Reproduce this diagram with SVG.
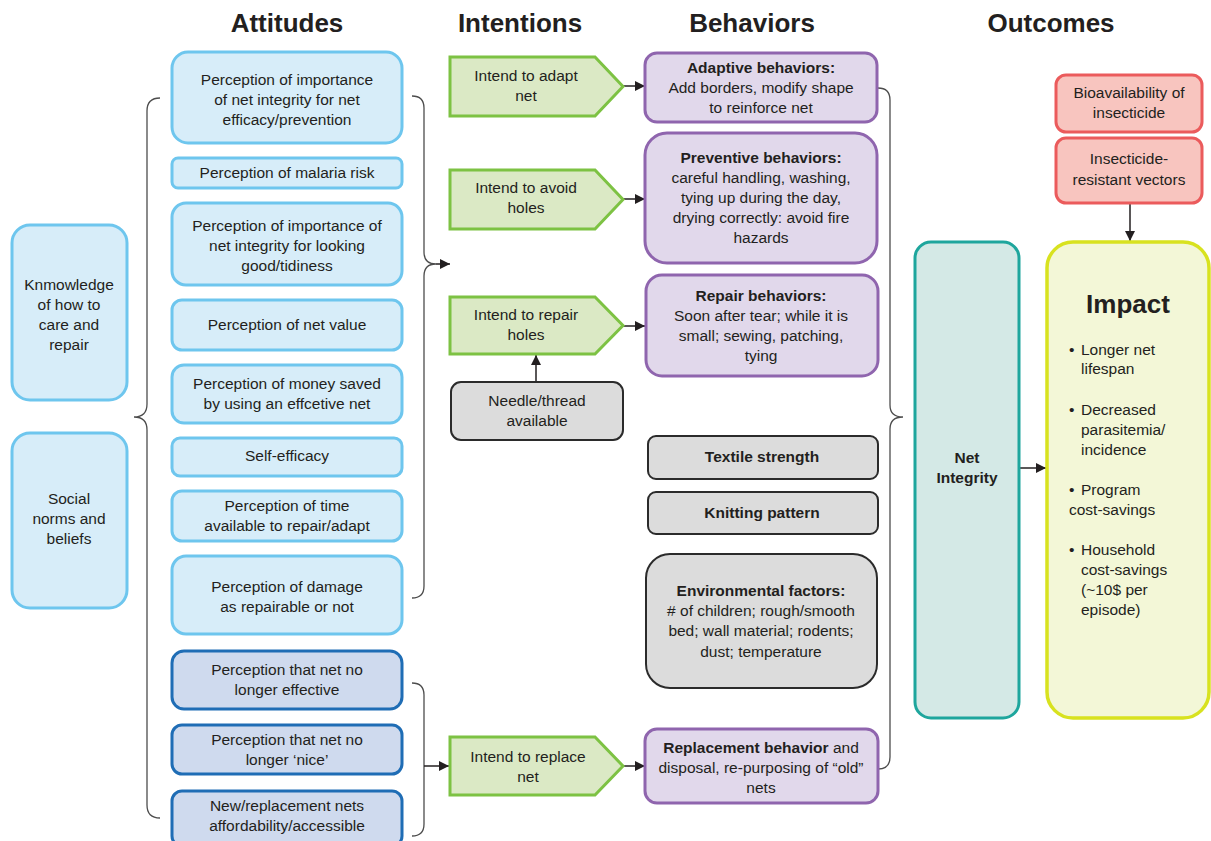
<svg xmlns="http://www.w3.org/2000/svg" width="1211" height="841" viewBox="0 0 1211 841">
<defs>
<marker id="ah" markerUnits="userSpaceOnUse" markerWidth="11" markerHeight="11" refX="10" refY="5" orient="auto"><path d="M0,0 L10,5 L0,10 z" fill="#231f20"/></marker>
<style>
text{font-family:"Liberation Sans",Arial,sans-serif;font-size:15.5px;fill:#231f20;text-anchor:middle}
.h{font-size:26px;font-weight:bold}
.b{font-weight:bold}
.lb{fill:#d7edf9;stroke:#6ec6ee;stroke-width:3}
.db{fill:#cfdaee;stroke:#1f6db5;stroke-width:3}
.gr{fill:#dbe9c5;stroke:#7dc243;stroke-width:3}
.pu{fill:#e1d8eb;stroke:#8f65ae;stroke-width:3}
.gy{fill:#dcdcdc;stroke:#2b2b2b;stroke-width:2}
.rd{fill:#f8c5bf;stroke:#eb5b5c;stroke-width:3}
.tl{fill:#d4e9e6;stroke:#1ea69d;stroke-width:3}
.yl{fill:#f3f7d7;stroke:#d8e21f;stroke-width:3.5}
.br{fill:none;stroke:#4d4d4d;stroke-width:1.3}
.ar{fill:none;stroke:#231f20;stroke-width:1.5;marker-end:url(#ah)}
.l{text-anchor:start}
</style>
</defs>
<rect width="1211" height="841" fill="#fff"/>
<g id="headers">
<text class="h" x="287" y="32">Attitudes</text>
<text class="h" x="520" y="32">Intentions</text>
<text class="h" x="752" y="32">Behaviors</text>
<text class="h" x="1051" y="32">Outcomes</text>
</g>
<g id="connectors">
<path class="br" d="M160,98 Q147,98 147,111 L147,404 Q147,417 134,417 Q147,417 147,430 L147,805 Q147,818 160,818"/>
<path class="br" d="M412,96 Q424,96 424,108 L424,252 Q424,264 436,264 Q424,264 424,276 L424,586 Q424,598 412,598"/>
<path class="ar" d="M436,264 L450,264"/>
<path class="br" d="M412,683 Q424,683 424,695 L424,824 Q424,836 412,836"/>
<path class="ar" d="M424,766 L449,766"/>
<path class="br" d="M878,88 Q890,88 890,100 L890,405 Q890,417 903,417 Q890,417 890,429 L890,757 Q890,769 878,769"/>
<path class="ar" d="M623,86 L645,86"/>
<path class="ar" d="M623,199 L645,199"/>
<path class="ar" d="M623,326 L645,326"/>
<path class="ar" d="M623,766 L645,766"/>
<path class="ar" d="M536,382 L536,355"/>
<path class="ar" d="M1019,468 L1046,468"/>
<path class="ar" d="M1130,203 L1130,241"/>
</g>
<g id="knowledge"><rect class="lb" x="12" y="225" width="115" height="175" rx="18"/>
<text x="69" y="290">Knmowledge</text><text x="69" y="310">of how to</text><text x="69" y="330">care and</text><text x="69" y="350">repair</text></g>
<g id="social"><rect class="lb" x="12" y="433" width="115" height="175" rx="18"/>
<text x="69" y="504">Social</text><text x="69" y="524">norms and</text><text x="69" y="544">beliefs</text></g>
<g id="att1"><rect class="lb" x="172" y="52" width="230" height="91" rx="16"/>
<text x="287" y="85">Perception of importance</text><text x="287" y="105">of net integrity for net</text><text x="287" y="125">efficacy/prevention</text></g>
<g id="att2"><rect class="lb" x="172" y="158" width="230" height="30" rx="6"/>
<text x="287" y="178">Perception of malaria risk</text></g>
<g id="att3"><rect class="lb" x="172" y="203" width="230" height="82" rx="14"/>
<text x="287" y="231">Perception of importance of</text><text x="287" y="251">net integrity for looking</text><text x="287" y="271">good/tidiness</text></g>
<g id="att4"><rect class="lb" x="172" y="300" width="230" height="50" rx="10"/>
<text x="287" y="330">Perception of net value</text></g>
<g id="att5"><rect class="lb" x="172" y="365" width="230" height="58" rx="12"/>
<text x="287" y="389">Perception of money saved</text><text x="287" y="409">by using an effcetive net</text></g>
<g id="att6"><rect class="lb" x="172" y="438" width="230" height="38" rx="8"/>
<text x="287" y="461">Self-efficacy</text></g>
<g id="att7"><rect class="lb" x="172" y="491" width="230" height="50" rx="10"/>
<text x="287" y="511">Perception of time</text><text x="287" y="531">available to repair/adapt</text></g>
<g id="att8"><rect class="lb" x="172" y="556" width="230" height="78" rx="14"/>
<text x="287" y="592">Perception of damage</text><text x="287" y="612">as repairable or not</text></g>
<g id="att9"><rect class="db" x="172" y="651" width="230" height="58" rx="12"/>
<text x="287" y="675">Perception that net no</text><text x="287" y="695">longer effective</text></g>
<g id="att10"><rect class="db" x="172" y="725" width="230" height="49" rx="10"/>
<text x="287" y="745">Perception that net no</text><text x="287" y="765">longer ‘nice’</text></g>
<g id="att11"><rect class="db" x="172" y="791" width="230" height="55" rx="10"/>
<text x="287" y="811">New/replacement nets</text><text x="287" y="831">affordability/accessible</text></g>
<g id="int1"><polygon class="gr" points="450,57 595,57 623,86.5 595,116 450,116"/>
<text x="526" y="81">Intend to adapt</text><text x="526" y="101">net</text></g>
<g id="int2"><polygon class="gr" points="450,170 595,170 623,199.5 595,229 450,229"/>
<text x="526" y="193">Intend to avoid</text><text x="526" y="213">holes</text></g>
<g id="int3"><polygon class="gr" points="450,297 595,297 623,325.5 595,354 450,354"/>
<text x="526" y="320">Intend to repair</text><text x="526" y="340">holes</text></g>
<g id="int4"><polygon class="gr" points="450,737 595,737 623,766 595,795 450,795"/>
<text x="528" y="762">Intend to replace</text><text x="528" y="782">net</text></g>
<g id="needle"><rect class="gy" x="451" y="382" width="172" height="58" rx="10"/>
<text x="537" y="406">Needle/thread</text><text x="537" y="426">available</text></g>
<g id="adaptive"><rect class="pu" x="645" y="53" width="232" height="69" rx="12"/>
<text class="b" x="761" y="73">Adaptive behaviors:</text><text x="761" y="93">Add borders, modify shape</text><text x="761" y="113">to reinforce net</text></g>
<g id="preventive"><rect class="pu" x="645" y="133" width="232" height="130" rx="22"/>
<text class="b" x="761" y="163">Preventive behaviors:</text><text x="761" y="183">careful handling, washing,</text><text x="761" y="203">tying up during the day,</text><text x="761" y="223">drying correctly: avoid fire</text><text x="761" y="243">hazards</text></g>
<g id="repair"><rect class="pu" x="646" y="275" width="232" height="101" rx="16"/>
<text class="b" x="761" y="301">Repair behaviors:</text><text x="761" y="321">Soon after tear; while it is</text><text x="761" y="341">small; sewing, patching,</text><text x="761" y="361">tying</text></g>
<g id="textile"><rect class="gy" x="648" y="436" width="230" height="43" rx="8"/>
<text class="b" x="762" y="462">Textile strength</text></g>
<g id="knitting"><rect class="gy" x="648" y="492" width="230" height="42" rx="8"/>
<text class="b" x="762" y="518">Knitting pattern</text></g>
<g id="environmental"><rect class="gy" x="646" y="554" width="231" height="134" rx="24"/>
<text class="b" x="761" y="596">Environmental factors:</text><text x="761" y="616"># of children; rough/smooth</text><text x="761" y="636">bed; wall material; rodents;</text><text x="761" y="657">dust; temperature</text></g>
<g id="replacement"><rect class="pu" x="645" y="729" width="233" height="74" rx="12"/>
<text x="761" y="753"><tspan font-weight="bold">Replacement behavior</tspan> and</text><text x="761" y="773">disposal, re-purposing of “old”</text><text x="761" y="793">nets</text></g>
<g id="netintegrity"><rect class="tl" x="915" y="242" width="104" height="476" rx="16"/>
<text class="b" x="967" y="463">Net</text><text class="b" x="967" y="483">Integrity</text></g>
<g id="bio"><rect class="rd" x="1056" y="75" width="146" height="57" rx="10"/>
<text x="1129" y="98">Bioavailability of</text><text x="1129" y="118">insecticide</text></g>
<g id="resistant"><rect class="rd" x="1056" y="138" width="146" height="65" rx="10"/>
<text x="1129" y="164">Insecticide-</text><text x="1129" y="185">resistant vectors</text></g>
<g id="impact"><rect class="yl" x="1047" y="242" width="162" height="476" rx="26"/>
<text class="b" x="1128" y="313" style="font-size:26px">Impact</text>
<text class="l" x="1069" y="355">•</text><text class="l" x="1081" y="355">Longer net</text><text class="l" x="1081" y="374">lifespan</text>
<text class="l" x="1069" y="415">•</text><text class="l" x="1081" y="415">Decreased</text><text class="l" x="1081" y="435">parasitemia/</text><text class="l" x="1081" y="455">incidence</text>
<text class="l" x="1069" y="495">•</text><text class="l" x="1081" y="495">Program</text><text class="l" x="1069" y="515">cost-savings</text>
<text class="l" x="1069" y="555">•</text><text class="l" x="1081" y="555">Household</text><text class="l" x="1081" y="575">cost-savings</text><text class="l" x="1081" y="595">(~10$ per</text><text class="l" x="1081" y="615">episode)</text>
</g>
</svg>
